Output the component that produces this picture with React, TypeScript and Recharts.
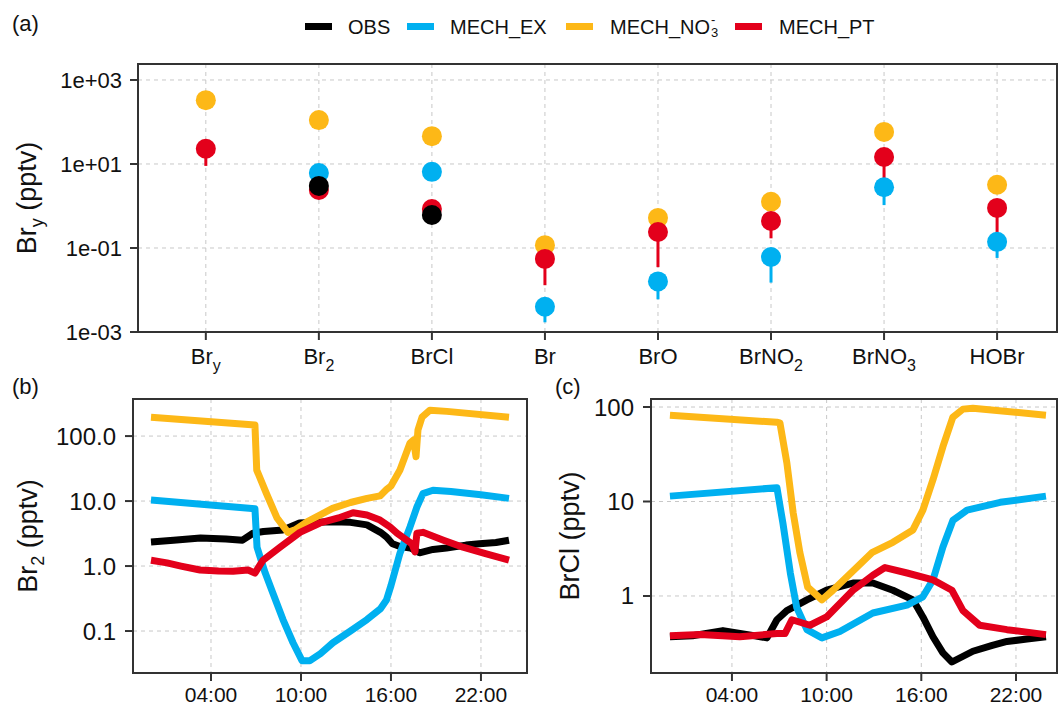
import React from "react";
import {
  ComposedChart, Scatter, Line, XAxis, YAxis, CartesianGrid, ErrorBar, ReferenceArea,
} from "recharts";

const BLACK = "#000000";
const BLUE = "#00B0F0";
const ORANGE = "#FDB817";
const RED = "#E3001B";
const AXIS = "#333333";
const FONT = "'Liberation Sans', Arial, sans-serif";

// ---- panel (a): species means (pptv) and lower error limits ----
const catMain = ["Br", "Br", "BrCl", "Br", "BrO", "BrNO", "BrNO", "HOBr"];
const catSub = ["y", "2", "", "", "", "2", "3", ""];

const obsVal = [null, 3.0, 0.61, null, null, null, null, null];
const obsLo = [null, 2.6, 0.52, null, null, null, null, null];
const exVal = [null, 6.1, 6.5, 0.004, 0.016, 0.061, 2.8, 0.14];
const exLo = [null, 3.4, 6.5, 0.0017, 0.006, 0.015, 1.05, 0.058];
const no3Val = [330, 111, 46, 0.117, 0.52, 1.26, 58, 3.2];
const no3Lo = [330, 111, 46, 0.117, 0.52, 1.26, 58, 3.2];
const ptVal = [23, 2.4, 0.85, 0.055, 0.24, 0.44, 14.7, 0.9];
const ptLo = [9, 1.9, 0.7, 0.013, 0.035, 0.17, 4.2, 0.18];

const aTicks = [0.001, 0.1, 10, 1000];

// ---- panel (b): Br2 diurnal (hour, pptv) ----
const bObsH = [0, 1.5, 3.3, 5, 6.1, 6.8, 7.5, 8.8, 9.9, 11, 12.1, 13.3, 14.4, 15.3, 15.7, 16.1, 16.6, 17.3, 17.9, 18.8, 19.7, 21, 21.9, 23, 23.87];
const bObsV = [2.35, 2.5, 2.7, 2.6, 2.5, 3.2, 3.4, 3.6, 4.6, 4.7, 4.8, 4.7, 4.3, 3.3, 2.8, 2.2, 2.0, 1.9, 1.6, 1.8, 1.9, 2.1, 2.2, 2.3, 2.5];
const bExH = [0, 6.93, 7.07, 7.6, 8.13, 8.8, 9.47, 10.07, 10.6, 11.3, 12.13, 13.3, 14.4, 15.3, 15.7, 16.0, 16.6, 17.27, 17.73, 18.13, 18.8, 20, 22, 23.87];
const bExV = [10.4, 7.6, 1.95, 0.8, 0.38, 0.15, 0.066, 0.035, 0.035, 0.045, 0.066, 0.1, 0.15, 0.22, 0.3, 0.5, 1.58, 4, 8.1, 13, 14.7, 14, 12.5, 11];
const bNo3H = [0, 6.93, 7.05, 7.7, 8.4, 9.13, 9.6, 10.4, 12.1, 13.3, 14.4, 15.27, 15.7, 16.0, 16.6, 17.27, 17.5, 17.67, 17.8, 18.07, 18.6, 19.73, 23.87];
const bNo3V = [195, 148, 30, 13, 5.5, 3.3, 3.6, 4.8, 7.7, 9.5, 11, 12, 15, 17, 30, 78, 87, 48, 124, 195, 250, 240, 195];
const bPtH = [0, 1.07, 2, 3.27, 4.5, 5.47, 6.47, 6.93, 7.47, 8.6, 9.93, 11.27, 12.5, 13.47, 14.4, 15.27, 15.93, 16.4, 17.4, 17.6, 17.73, 18.13, 19.5, 20.8, 22.3, 23.87];
const bPtV = [1.23, 1.12, 1.0, 0.87, 0.84, 0.83, 0.87, 0.78, 1.23, 1.95, 3.3, 4.6, 5.5, 6.6, 6.1, 5.1, 4, 3.2, 2.2, 1.65, 3.2, 3.3, 2.5, 1.95, 1.55, 1.23];

// ---- panel (c): BrCl diurnal (hour, pptv) ----
const cObsH = [0.07, 1.5, 3.43, 5, 6.22, 6.85, 7.48, 8.75, 10.0, 11.67, 12.93, 14.2, 15.47, 16.1, 16.74, 17.37, 17.94, 19.27, 20.5, 21.43, 22.7, 23.9];
const cObsV = [0.37, 0.38, 0.43, 0.39, 0.36, 0.56, 0.7, 0.91, 1.15, 1.37, 1.37, 1.15, 0.91, 0.6, 0.37, 0.25, 0.2, 0.26, 0.3, 0.33, 0.35, 0.37];
const cExH = [0.07, 6.85, 7.23, 7.7, 8.1, 8.75, 9.7, 10.84, 12.93, 15.09, 16.1, 16.74, 17.37, 18.0, 18.9, 21, 23.9];
const cExV = [11.4, 14, 5.9, 1.75, 0.76, 0.44, 0.36, 0.42, 0.66, 0.8, 0.98, 1.48, 3.3, 6.3, 8.1, 9.8, 11.4];
const cNo3H = [0.07, 6.85, 7.04, 7.48, 7.88, 8.3, 8.8, 9.7, 10.4, 11.9, 12.9, 14.2, 15.47, 16.1, 16.74, 17.37, 18.0, 18.64, 19.27, 23.9];
const cNo3V = [82, 69, 68, 25.6, 7.6, 2.9, 1.24, 0.91, 1.15, 2.0, 2.9, 3.7, 5, 8.1, 17, 38, 78, 95, 97, 82];
const cPtH = [0.07, 2, 4.5, 6.85, 7.36, 7.8, 8.94, 10.0, 11.67, 12.93, 13.7, 15.1, 16.74, 17.94, 18.64, 19.7, 21.43, 23.9];
const cPtV = [0.38, 0.39, 0.37, 0.4, 0.4, 0.56, 0.49, 0.6, 1.15, 1.66, 2.0, 1.75, 1.48, 1.15, 0.7, 0.49, 0.44, 0.39];

const hourTicks = [4, 10, 16, 22];

const toPoints = (vals: (number | null)[], lo: (number | null)[]) =>
  vals
    .map((v, i) => (v == null ? null : { x: i, y: v, err: [v - (lo[i] as number), 0] }))
    .filter(Boolean) as { x: number; y: number; err: number[] }[];

const toSeries = (h: number[], v: number[]) => h.map((t, i) => ({ h: t, v: v[i] }));

const expFmt = (v: number) => {
  const e = Math.round(Math.log10(v));
  return `1e${e < 0 ? "-" : "+"}${String(Math.abs(e)).padStart(2, "0")}`;
};
const hourFmt = (v: number) => `${String(v).padStart(2, "0")}:00`;

const axisLine = { stroke: AXIS, strokeWidth: 2 };
const grid = <CartesianGrid stroke="#c8c8c8" strokeDasharray="4 4" />;

const CatTick = ({ x, y, payload }: any) => {
  const i = payload.value;
  return (
    <text x={x} y={y + 22} textAnchor="middle" fontSize={22} fill="#111" fontFamily={FONT}>
      {catMain[i]}
      {catSub[i] ? <tspan dy={7} fontSize={16}>{catSub[i]}</tspan> : null}
    </text>
  );
};

const dot = (color: string) => (p: any) => <circle cx={p.cx} cy={p.cy} r={10} fill={color} />;

const PanelA = () => {
  const xd: [number, number] = [-0.6, 7.53];
  const yd: [number, number] = [0.001, 2400];
  const series = [
    { name: "MECH_NO3", color: ORANGE, data: toPoints(no3Val, no3Lo) },
    { name: "MECH_EX", color: BLUE, data: toPoints(exVal, exLo) },
    { name: "MECH_PT", color: RED, data: toPoints(ptVal, ptLo) },
    { name: "OBS", color: BLACK, data: toPoints(obsVal, obsLo) },
  ];
  return (
    <ComposedChart width={1058} height={380} margin={{ top: 64, right: 1, bottom: 0, left: 0 }}>
      {grid}
      <XAxis type="number" dataKey="x" domain={xd} ticks={[0, 1, 2, 3, 4, 5, 6, 7]}
        allowDataOverflow height={48} tick={<CatTick />} tickSize={8}
        axisLine={axisLine} tickLine={axisLine} />
      <YAxis type="number" dataKey="y" scale="log" domain={yd} ticks={aTicks} allowDataOverflow
        width={138} tickFormatter={expFmt} tickSize={8} tickMargin={8}
        tick={{ fontSize: 22, fill: "#111", fontFamily: FONT }}
        axisLine={axisLine} tickLine={axisLine} />
      <ReferenceArea x1={xd[0]} x2={xd[1]} y1={yd[0]} y2={yd[1]} fill="none"
        stroke={AXIS} strokeWidth={2} ifOverflow="visible" />
      {series.map((s) => (
        <Scatter key={s.name} data={s.data} shape={dot(s.color)} isAnimationActive={false}>
          <ErrorBar dataKey="err" direction="y" width={0} stroke={s.color} strokeWidth={3} />
        </Scatter>
      ))}
    </ComposedChart>
  );
};

type LineSet = { h: number[]; v: number[]; color: string; name: string }[];

const DiurnalPanel = ({
  width, yWidth, rightPad, xd, yd, yTicks, yFmt, lines,
}: {
  width: number; yWidth: number; rightPad: number; xd: [number, number]; yd: [number, number];
  yTicks: number[]; yFmt: (v: number) => string; lines: LineSet;
}) => (
  <ComposedChart width={width} height={329} margin={{ top: 19, right: rightPad, bottom: 0, left: 0 }}>
    {grid}
    <XAxis type="number" dataKey="h" domain={xd} ticks={hourTicks} allowDataOverflow height={36}
      tickFormatter={hourFmt} tickSize={8} tickMargin={6}
      tick={{ fontSize: 21, fill: "#111", fontFamily: FONT }}
      axisLine={axisLine} tickLine={axisLine} />
    <YAxis type="number" dataKey="v" scale="log" domain={yd} ticks={yTicks} allowDataOverflow
      width={yWidth} tickFormatter={yFmt} tickSize={8} tickMargin={9}
      tick={{ fontSize: 24, fill: "#111", fontFamily: FONT }}
      axisLine={axisLine} tickLine={axisLine} />
    <ReferenceArea x1={xd[0]} x2={xd[1]} y1={yd[0]} y2={yd[1]} fill="none"
      stroke={AXIS} strokeWidth={2} ifOverflow="visible" />
    {lines.map((l) => (
      <Line key={l.name} data={toSeries(l.h, l.v)} dataKey="v" type="linear" stroke={l.color}
        strokeWidth={7} dot={false} isAnimationActive={false} strokeLinejoin="round" />
    ))}
  </ComposedChart>
);

const legendItems = [
  { label: "OBS", color: BLACK, rect: 305, text: 348 },
  { label: "MECH_EX", color: BLUE, rect: 407, text: 450 },
  { label: "MECH_NO3", color: ORANGE, rect: 566, text: 610 },
  { label: "MECH_PT", color: RED, rect: 735, text: 779 },
];

const txt: React.CSSProperties = { position: "absolute", fontFamily: FONT, color: "#111", whiteSpace: "nowrap", lineHeight: 1 };

const VTitle = ({ cx, cy, children }: { cx: number; cy: number; children: React.ReactNode }) => (
  <div style={{ ...txt, left: cx, top: cy, fontSize: 27, transform: "translate(-50%, -50%) rotate(-90deg)" }}>
    {children}
  </div>
);

const App = () => (
  <div style={{ position: "absolute", left: 0, top: 0, width: 1058, height: 709, background: "#fff", overflow: "hidden" }}>
    <div style={{ position: "absolute", left: 0, top: 0 }}>
      <PanelA />
    </div>
    <div style={{ position: "absolute", left: 0, top: 380 }}>
      <DiurnalPanel width={540} yWidth={133} rightPad={13} xd={[-1.2, 25.07]} yd={[0.0226, 372]}
        yTicks={[0.1, 1, 10, 100]} yFmt={(v) => (v >= 1 ? v.toFixed(1) : String(v))}
        lines={[
          { name: "OBS", color: BLACK, h: bObsH, v: bObsV },
          { name: "EX", color: BLUE, h: bExH, v: bExV },
          { name: "NO3", color: ORANGE, h: bNo3H, v: bNo3V },
          { name: "PT", color: RED, h: bPtH, v: bPtV },
        ]} />
    </div>
    <div style={{ position: "absolute", left: 540, top: 380 }}>
      <DiurnalPanel width={518} yWidth={111} rightPad={1} xd={[-1.13, 24.6]} yd={[0.153, 121.6]}
        yTicks={[1, 10, 100]} yFmt={(v) => String(v)}
        lines={[
          { name: "OBS", color: BLACK, h: cObsH, v: cObsV },
          { name: "EX", color: BLUE, h: cExH, v: cExV },
          { name: "NO3", color: ORANGE, h: cNo3H, v: cNo3V },
          { name: "PT", color: RED, h: cPtH, v: cPtV },
        ]} />
    </div>

    {/* legend */}
    {legendItems.map((it) => (
      <React.Fragment key={it.label}>
        <div style={{ position: "absolute", left: it.rect, top: 23, width: 27, height: 7, background: it.color }} />
        <div style={{ ...txt, left: it.text, top: 17, fontSize: 20 }}>
          {it.label === "MECH_NO3" ? (
            <>
              MECH_NO
              <span style={{ display: "inline-block", position: "relative", width: 9, height: 20, verticalAlign: "top" }}>
                <span style={{ position: "absolute", left: 1, top: -4, fontSize: 13 }}>-</span>
                <span style={{ position: "absolute", left: 1, top: 9, fontSize: 13 }}>3</span>
              </span>
            </>
          ) : it.label}
        </div>
      </React.Fragment>
    ))}

    {/* panel letters */}
    <div style={{ ...txt, left: 12, top: 13, fontSize: 22 }}>(a)</div>
    <div style={{ ...txt, left: 12, top: 376, fontSize: 22 }}>(b)</div>
    <div style={{ ...txt, left: 555, top: 376, fontSize: 22 }}>(c)</div>

    {/* axis titles */}
    <VTitle cx={30} cy={198}>Br<sub style={{ fontSize: 18 }}>y</sub> (pptv)</VTitle>
    <VTitle cx={31} cy={536}>Br<sub style={{ fontSize: 18 }}>2</sub> (pptv)</VTitle>
    <VTitle cx={570} cy={536}>BrCl (pptv)</VTitle>
  </div>
);

export default App;
